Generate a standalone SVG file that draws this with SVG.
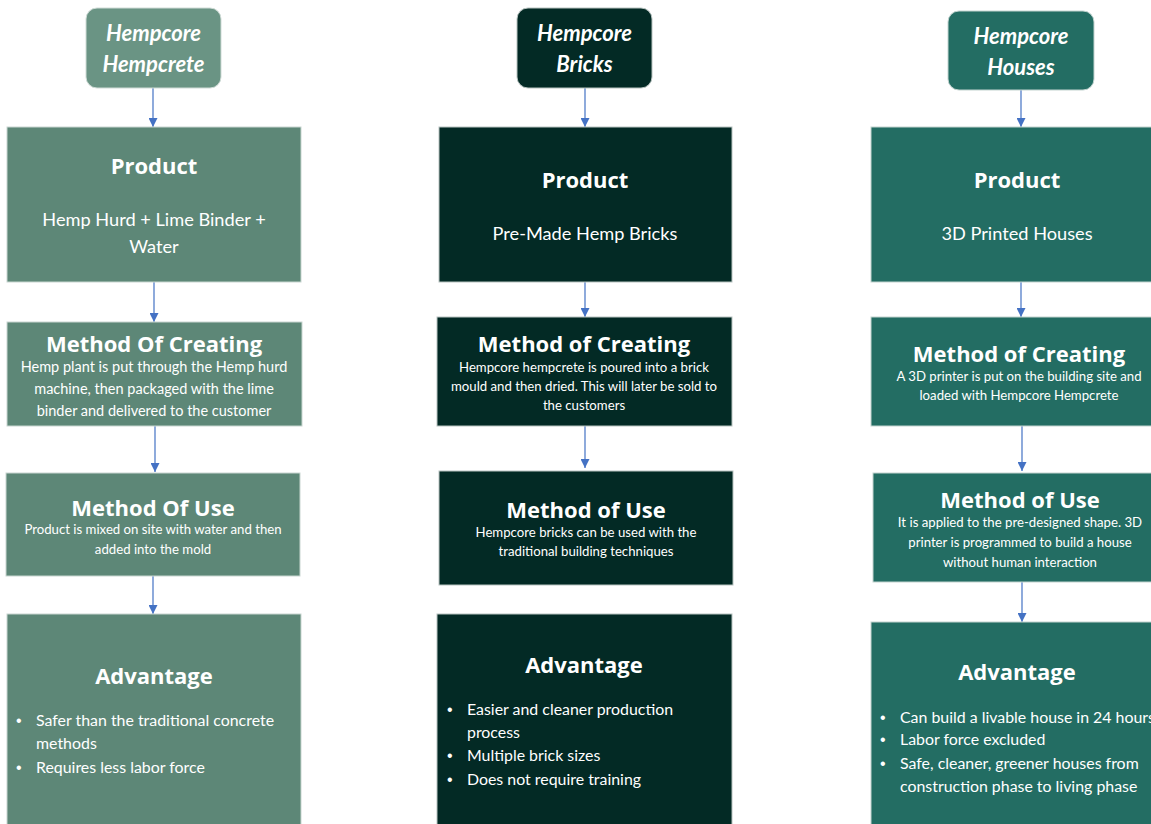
<svg xmlns="http://www.w3.org/2000/svg" width="1151" height="824" viewBox="0 0 1151 824">
<defs>
<marker id="ah" viewBox="0 0 10 10" refX="10" refY="5" markerWidth="9" markerHeight="9" markerUnits="userSpaceOnUse" orient="auto"><path d="M0,0 L10,5 L0,10 z" fill="#4472c4"/></marker>
<style>
.c1{fill:#5d8777;stroke:#c9d6d1;stroke-width:1}
.h1{fill:#6a9484;stroke:#d0dcd7;stroke-width:1}
.c2{fill:#032a25;stroke:#b9c4c1;stroke-width:1}
.c3{fill:#236d63;stroke:#c3d4d0;stroke-width:1}
.hd{font-family:Lato,"Liberation Sans",sans-serif;font-weight:bold;font-style:italic;font-size:22px;fill:#fff;text-anchor:middle}
.tt{font-family:"Open Sans","Liberation Sans",sans-serif;font-weight:bold;font-size:22px;fill:#fff;text-anchor:middle}
.bd{font-family:Lato,"Liberation Sans",sans-serif;font-size:14.5px;fill:#fff;text-anchor:middle}
.sm{font-size:13.2px}
.pb{font-family:Lato,"Liberation Sans",sans-serif;font-size:18.2px;fill:#fff;text-anchor:middle}
.bl{font-family:Lato,"Liberation Sans",sans-serif;font-size:15.9px;fill:#fff}
.dt{font-family:"Liberation Sans",sans-serif;font-size:16px;fill:#fff}
.cn{stroke:#4472c4;stroke-width:1.2;fill:none;marker-end:url(#ah)}
</style>
</defs>
<rect width="1151" height="824" fill="#fff"/>
<g id="connectors">
<path class="cn" d="M153,88 V127"/>
<path class="cn" d="M154,282 V322"/>
<path class="cn" d="M155,426 V472"/>
<path class="cn" d="M153,576 V614"/>
<path class="cn" d="M585,88 V127"/>
<path class="cn" d="M585,282 V317"/>
<path class="cn" d="M585,426 V468"/>
<path class="cn" d="M1021,90 V127"/>
<path class="cn" d="M1021,282 V317"/>
<path class="cn" d="M1022,426 V471"/>
<path class="cn" d="M1022,582 V622"/>
</g>
<g id="h1"><rect class="h1" x="86" y="8" width="135" height="80" rx="11"/><text class="hd" x="153.5" y="41">Hempcore</text><text class="hd" x="153.5" y="72">Hempcrete</text></g>
<g id="p1"><rect class="c1" x="7" y="127" width="294" height="155"/><text class="tt" x="154" y="174">Product</text><text class="pb" x="154" y="226">Hemp Hurd + Lime Binder +</text><text class="pb" x="154" y="253">Water</text></g>
<g id="m1"><rect class="c1" x="7" y="322" width="295" height="104"/><text class="tt" x="154" y="352">Method Of Creating</text><text class="bd" x="154" y="372">Hemp plant is put through the Hemp hurd</text><text class="bd" x="154" y="394">machine, then packaged with the lime</text><text class="bd" x="154" y="416">binder and delivered  to the customer</text></g>
<g id="u1"><rect class="c1" x="6" y="473" width="294" height="103"/><text class="tt" x="153" y="516">Method Of Use</text><text class="bd sm" x="153" y="534">Product is mixed on site with water and then</text><text class="bd sm" x="153" y="554">added into the mold</text></g>
<g id="a1"><rect class="c1" x="7" y="614" width="294" height="215"/><text class="tt" x="154" y="684">Advantage</text><text class="dt" x="16" y="726">•</text><text class="bl" x="36" y="726">Safer than the traditional concrete</text><text class="bl" x="36" y="749">methods</text><text class="dt" x="16" y="773">•</text><text class="bl" x="36" y="773">Requires less labor force</text></g>
<g id="h2"><rect class="c2" x="517" y="8" width="135" height="80" rx="11"/><text class="hd" x="584.5" y="41">Hempcore</text><text class="hd" x="584.5" y="72">Bricks</text></g>
<g id="p2"><rect class="c2" x="439" y="127" width="293" height="155"/><text class="tt" x="585" y="188">Product</text><text class="pb" x="585" y="240">Pre-Made Hemp Bricks</text></g>
<g id="m2"><rect class="c2" x="437" y="317" width="295" height="109"/><text class="tt" x="584" y="352">Method of Creating</text><text class="bd sm" x="584" y="372">Hempcore hempcrete is poured into a brick</text><text class="bd sm" x="584" y="391">mould and then dried. This will later be sold to</text><text class="bd sm" x="584" y="410">the customers</text></g>
<g id="u2"><rect class="c2" x="439" y="471" width="294" height="114"/><text class="tt" x="586" y="518">Method of Use</text><text class="bd sm" x="586" y="537">Hempcore bricks can be used with the</text><text class="bd sm" x="586" y="556">traditional building techniques</text></g>
<g id="a2"><rect class="c2" x="437" y="614" width="295" height="215"/><text class="tt" x="584" y="673">Advantage</text><text class="dt" x="447" y="715">•</text><text class="bl" x="467" y="715">Easier and cleaner production</text><text class="bl" x="467" y="738">process</text><text class="dt" x="447" y="761">•</text><text class="bl" x="467" y="761">Multiple brick sizes</text><text class="dt" x="447" y="785">•</text><text class="bl" x="467" y="785">Does not require training</text></g>
<g id="h3"><rect class="c3" x="948" y="11" width="146" height="79" rx="11"/><text class="hd" x="1021" y="44">Hempcore</text><text class="hd" x="1021" y="75">Houses</text></g>
<g id="p3"><rect class="c3" x="871" y="127" width="290" height="155"/><text class="tt" x="1017" y="188">Product</text><text class="pb" x="1017" y="240">3D Printed Houses</text></g>
<g id="m3"><rect class="c3" x="871" y="317" width="290" height="109"/><text class="tt" x="1019" y="362">Method of Creating</text><text class="bd sm" x="1019" y="381">A 3D printer is put on the building site and</text><text class="bd sm" x="1019" y="400">loaded with Hempcore Hempcrete</text></g>
<g id="u3"><rect class="c3" x="873" y="473" width="288" height="109"/><text class="tt" x="1020" y="508">Method of Use</text><text class="bd sm" x="1020" y="527">It is applied to the pre-designed shape. 3D</text><text class="bd sm" x="1020" y="547">printer is programmed to build a house</text><text class="bd sm" x="1020" y="567">without human interaction</text></g>
<g id="a3"><rect class="c3" x="871" y="622" width="290" height="210"/><text class="tt" x="1017" y="680">Advantage</text><text class="dt" x="880" y="723">•</text><text class="bl" x="900" y="723">Can build a livable house in 24 hours</text><text class="dt" x="880" y="745">•</text><text class="bl" x="900" y="745">Labor force excluded</text><text class="dt" x="880" y="769">•</text><text class="bl" x="900" y="769">Safe, cleaner, greener houses from</text><text class="bl" x="900" y="792">construction phase to living phase</text></g>
</svg>
